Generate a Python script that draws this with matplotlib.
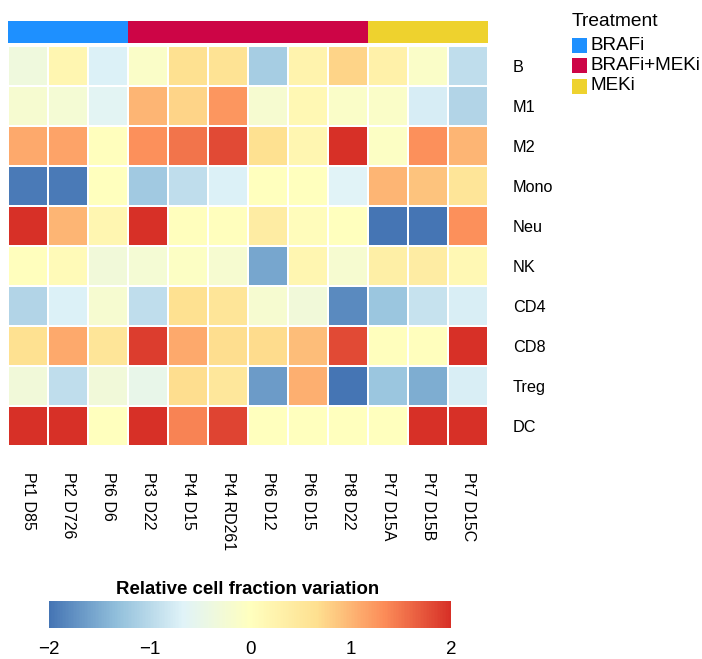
import matplotlib
matplotlib.use("Agg")
import matplotlib.pyplot as plt
import numpy as np
from matplotlib.colors import LinearSegmentedColormap, ListedColormap
from matplotlib.patches import Rectangle

plt.rcParams["font.family"] = ["Liberation Sans", "DejaVu Sans"]

samples = ["Pt1 D85", "Pt2 D726", "Pt6 D6", "Pt3 D22", "Pt4 D15", "Pt4 RD261",
           "Pt6 D12", "Pt6 D15", "Pt8 D22", "Pt7 D15A", "Pt7 D15B", "Pt7 D15C"]
cell_types = ["B", "M1", "M2", "Mono", "Neu", "NK", "CD4", "CD8", "Treg", "DC"]
treatment = ["BRAFi", "BRAFi", "BRAFi",
             "BRAFi+MEKi", "BRAFi+MEKi", "BRAFi+MEKi", "BRAFi+MEKi", "BRAFi+MEKi", "BRAFi+MEKi",
             "MEKi", "MEKi", "MEKi"]
treatment_levels = ["BRAFi", "BRAFi+MEKi", "MEKi"]
treatment_colors = ["#1E90FF", "#CD0546", "#EED22E"]

# relative cell fraction variation, rows = cell types, cols = samples
B    = [-0.35, 0.2, -0.7, -0.1, 0.65, 0.6, -1.15, 0.25, 0.75, 0.3, -0.1, -0.95]
M1   = [-0.2, -0.25, -0.6, 1.0, 0.75, 1.25, -0.2, 0.15, -0.1, -0.1, -0.75, -1.05]
M2   = [1.1, 1.15, 0.02, 1.3, 1.5, 1.8, 0.65, 0.2, 2.0, -0.05, 1.3, 1.0]
Mono = [-1.95, -1.95, 0.0, -1.2, -0.95, -0.7, 0.0, 0.0, -0.65, 1.0, 0.9, 0.55]
Neu  = [2.0, 1.0, 0.2, 2.0, 0.02, 0.02, 0.4, 0.05, 0.0, -2.0, -2.0, 1.3]
NK   = [0.02, 0.1, -0.3, -0.25, -0.05, -0.2, -1.55, 0.2, -0.2, 0.35, 0.4, 0.15]
CD4  = [-1.05, -0.7, -0.2, -0.95, 0.65, 0.55, -0.2, -0.3, -1.8, -1.25, -0.88, -0.72]
CD8  = [0.65, 1.1, 0.55, 1.9, 1.1, 0.68, 0.7, 0.95, 1.8, 0.02, 0.02, 2.0]
Treg = [-0.3, -0.95, -0.3, -0.5, 0.68, 0.5, -1.65, 1.05, -2.0, -1.25, -1.5, -0.72]
DC   = [2.0, 2.0, 0.0, 2.0, 1.4, 1.85, 0.0, 0.0, 0.0, 0.0, 2.0, 2.0]

values = np.array([B, M1, M2, Mono, Neu, NK, CD4, CD8, Treg, DC])

cmap = LinearSegmentedColormap.from_list(
    "rdylbu_r", ["#4575B4", "#91BFDB", "#E0F3F8", "#FFFFBF", "#FEE090", "#FC8D59", "#D73027"])

W, H = 702, 659
fig = plt.figure(figsize=(W / 100, H / 100), dpi=100)

def px_axes(x0, y0, x1, y1):
    return fig.add_axes([x0 / W, 1 - y1 / H, (x1 - x0) / W, (y1 - y0) / H])

# heatmap body
ax = px_axes(8, 46, 488, 446)
mesh = ax.pcolormesh(values, cmap=cmap, vmin=-2, vmax=2, edgecolors="white", linewidth=1.1)
ax.set_xlim(0, len(samples))
ax.set_ylim(len(cell_types), 0)
ax.set_xticks(np.arange(len(samples)) + 0.5)
ax.set_xticklabels(samples, rotation=270, fontsize=11.5)
ax.set_yticks(np.arange(len(cell_types)) + 0.5)
ax.set_yticklabels(cell_types, fontsize=11.7)
ax.yaxis.tick_right()
ax.tick_params(length=0, pad=18, axis="y")
ax.tick_params(length=0, pad=19, axis="x")
for lab in ax.get_xticklabels():
    lab.set_verticalalignment("top")
    lab.set_horizontalalignment("center")
for s in ax.spines.values():
    s.set_visible(False)

# treatment annotation bar
ax_ann = px_axes(8, 21, 488, 43)
codes = np.array([[treatment_levels.index(t) for t in treatment]])
ax_ann.pcolormesh(codes, cmap=ListedColormap(treatment_colors), vmin=-0.5, vmax=2.5)
ax_ann.set_xlim(0, len(samples))
ax_ann.axis("off")

# treatment legend
fig.text(572 / W, 1 - 21 / H, "Treatment", fontsize=13.8, va="center", ha="left")
for i, (lev, col) in enumerate(zip(treatment_levels, treatment_colors)):
    yc = 45 + i * 20.5
    fig.patches.append(Rectangle((572 / W, 1 - (yc + 7.5) / H), 15 / W, 15 / H,
                                 transform=fig.transFigure, facecolor=col, edgecolor="none"))
    fig.text(590 / W, 1 - yc / H, lev, fontsize=13.6, va="center", ha="left")

# colorbar
ax_cb = px_axes(49, 601, 451, 628)
cb = fig.colorbar(mesh, cax=ax_cb, orientation="horizontal")
cb.outline.set_visible(False)
cb.set_ticks([-2, -1, 0, 1, 2])
ax_cb.tick_params(length=0, labelsize=13.5, pad=9)
fig.text(248 / W, 1 - 589 / H, "Relative cell fraction variation",
         fontsize=13.4, fontweight="bold", ha="center", va="center")

fig.savefig("out.png", dpi=100)
